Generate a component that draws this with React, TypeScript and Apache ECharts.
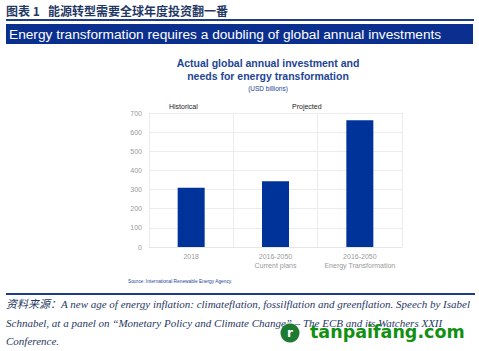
import React, { useEffect, useRef } from "react";
import * as echarts from "echarts";

const categories = ["2018", "2016-2050\nCurrent plans", "2016-2050\nEnergy Transformation"];
const values = [310, 343, 662];
const yTicks = [0, 100, 200, 300, 400, 500, 600, 700];

const BAR = "#003399";

export default function App() {
  const ref = useRef<HTMLDivElement>(null);
  useEffect(() => {
    const chart = echarts.init(ref.current!, null, { renderer: "svg" });
    chart.setOption({
      animation: false,
      backgroundColor: "#ffffff",
      grid: { left: 149, right: 77, top: 113, bottom: 104, containLabel: false },
      xAxis: {
        type: "category",
        data: categories,
        boundaryGap: true,
        axisLine: { show: true, lineStyle: { color: "#e6e6e6" } },
        axisTick: { show: false },
        splitLine: { show: true, lineStyle: { color: "#ececec" } },
        axisLabel: { color: "#9a9a9a", fontSize: 7, fontFamily: "Arial, Liberation Sans", lineHeight: 9, margin: 5, interval: 0 },
      },
      yAxis: {
        type: "value",
        min: yTicks[0],
        max: yTicks[yTicks.length - 1],
        interval: 100,
        axisLine: { show: true, lineStyle: { color: "#ececec" } },
        axisTick: { show: false },
        splitLine: { show: true, lineStyle: { color: "#ececec" } },
        axisLabel: { color: "#9a9a9a", fontSize: 7, fontFamily: "Arial, Liberation Sans", margin: 7 },
      },
      series: [
        {
          type: "bar",
          data: values,
          barWidth: 27,
          itemStyle: { color: BAR },
        },
      ],
      graphic: [
        { type: "text", left: 6, top: 4, style: { text: "图表 1   能源转型需要全球年度投资翻一番", fill: "#1F3864", font: "bold 12px 'Noto Sans CJK SC'" } },
        { type: "rect", shape: { x: 6, y: 19, width: 468, height: 2 }, style: { fill: "#1F3C88" } },
        { type: "rect", shape: { x: 6, y: 24, width: 467, height: 20 }, style: { fill: "#0B2F8F" } },
        { type: "text", x: 9, y: 34, style: { text: "Energy transformation requires a doubling of global annual investments", fill: "#ffffff", font: "13.7px Arial, 'Liberation Sans'", verticalAlign: "middle" } },
        { type: "text", x: 268, y: 63, style: { text: "Actual global annual investment and", fill: "#1E4595", font: "bold 10.5px Arial, 'Liberation Sans'", align: "center", verticalAlign: "middle" } },
        { type: "text", x: 268, y: 76, style: { text: "needs for energy transformation", fill: "#1E4595", font: "bold 10.5px Arial, 'Liberation Sans'", align: "center", verticalAlign: "middle" } },
        { type: "text", x: 268, y: 88, style: { text: "(USD billions)", fill: "#1E4595", font: "6.5px Arial, 'Liberation Sans'", align: "center", verticalAlign: "middle" } },
        { type: "text", x: 169, y: 106, style: { text: "Historical", fill: "#222", font: "7px Arial, 'Liberation Sans'", verticalAlign: "middle" } },
        { type: "text", x: 292, y: 106, style: { text: "Projected", fill: "#222", font: "7px Arial, 'Liberation Sans'", verticalAlign: "middle" } },
        { type: "text", x: 128, y: 281, style: { text: "Source: International Renewable Energy Agency.", fill: "#1E4595", font: "4.8px Arial, 'Liberation Sans'", verticalAlign: "middle" } },
        { type: "rect", shape: { x: 6, y: 293, width: 469, height: 2 }, style: { fill: "#1F3C88" } },
        { type: "text", x: 6, y: 304, style: { text: "资料来源：A new age of energy inflation: climateflation, fossilflation and greenflation. Speech by Isabel", fill: "#1F3864", font: "italic 11px 'Liberation Serif', 'Noto Sans CJK SC'", verticalAlign: "middle" } },
        { type: "text", x: 6, y: 323, style: { text: "Schnabel, at a panel on “Monetary Policy and Climate Change” – The ECB and its Watchers XXII", fill: "#1F3864", font: "italic 11px 'Liberation Serif'", verticalAlign: "middle" } },
        { type: "text", x: 6, y: 341, style: { text: "Conference.", fill: "#1F3864", font: "italic 11px 'Liberation Serif'", verticalAlign: "middle" } },
        { type: "circle", shape: { cx: 290, cy: 333, r: 9.5 }, style: { fill: "#1E7A30" } },
        { type: "text", x: 290, y: 333, style: { text: "r", fill: "#ffffff", font: "bold 12px 'DejaVu Sans'", align: "center", verticalAlign: "middle" } },
        { type: "text", x: 310, y: 332, style: { text: "tanpaifang.com", fill: "#129012", font: "bold 17.5px 'DejaVu Sans', Arial", verticalAlign: "middle" } },
      ],
    });
    return () => chart.dispose();
  }, []);
  return <div ref={ref} style={{ position: "fixed", left: 0, top: 0, width: 479, height: 351 }} />;
}
